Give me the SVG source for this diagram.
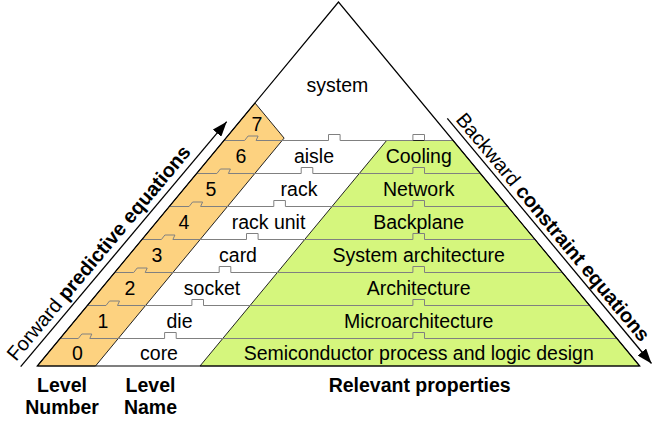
<svg xmlns="http://www.w3.org/2000/svg" width="653" height="423" viewBox="0 0 653 423">
<style>
text{font-family:"Liberation Sans",Arial,sans-serif;font-size:19.5px;fill:#000}
.c{text-anchor:middle}
.b{font-weight:bold}
.ax{font-size:20px}
.band{fill:none;stroke:#808080;stroke-width:1}
.edge{stroke:#222;stroke-width:1}
.arrow{stroke:#000;stroke-width:1.3;fill:none}
</style>
<defs>
<marker id="ah" markerUnits="userSpaceOnUse" markerWidth="15" markerHeight="11" viewBox="0 0 15 11" refX="15" refY="5.5" orient="auto">
<path d="M0,0 L15,5.5 L0,11 z" fill="#000"/>
</marker>
</defs>
<rect width="653" height="423" fill="#fff"/>
<g id="regions">
<polygon id="number-strip" class="edge" points="37.3,366 95.5,366 284.1,138.1 255,103" fill="#fdd280"/>
<polygon id="property-area" class="edge" points="200,366 386.6,140.5 453.1,140.5 639.7,366" fill="#d5f67d"/>
</g>
<g id="band-lines">
<path class="band" d="M223.9,140.5 H244.6 L248.1,136 H258.1 L256.1,140.5 H328.5 V134.5 H340.1 V140.5 H412.9 V134.5 H424.5 V140.5 H453.1"/>
<path class="band" d="M196.6,173.5 H216.9 L220.4,169 H230.4 L228.4,173.5 H301.2 V167.5 H312.8 V173.5 H412.9 V167.5 H424.5 V173.5 H480.4"/>
<path class="band" d="M169.3,206.5 H189.1 L192.6,202 H202.6 L200.6,206.5 H273.8 V200.5 H285.4 V206.5 H412.9 V200.5 H424.5 V206.5 H507.7"/>
<path class="band" d="M142,239.5 H161.4 L164.9,235 H174.9 L172.9,239.5 H246.5 V233.5 H258.1 V239.5 H412.9 V233.5 H424.5 V239.5 H535"/>
<path class="band" d="M114.7,272.5 H133.7 L137.2,268 H147.2 L145.2,272.5 H219.2 V266.5 H230.8 V272.5 H412.9 V266.5 H424.5 V272.5 H562.3"/>
<path class="band" d="M87.4,305.5 H106 L109.5,301 H119.5 L117.5,305.5 H191.9 V299.5 H203.5 V305.5 H412.9 V299.5 H424.5 V305.5 H589.7"/>
<path class="band" d="M60.1,338.5 H78.3 L81.8,334 H91.8 L89.8,338.5 H164.6 V332.5 H176.2 V338.5 H412.9 V332.5 H424.5 V338.5 H617"/>
</g>
<g id="pyramid">
<path d="M338.5,2 L37.3,366 H639.7 Z" fill="none" stroke="#000" stroke-width="1.2" stroke-linejoin="miter"/>
</g>
<g id="level-system"><text class="c" x="337.5" y="92">system</text></g>
<g id="level-7"><text class="c" x="257" y="130.5">7</text></g>
<g id="level-6"><text class="c" x="241" y="162.5">6</text><text class="c" x="314" y="162.5">aisle</text><text class="c" x="418.7" y="162.5">Cooling</text></g>
<g id="level-5"><text class="c" x="211" y="195.5">5</text><text class="c" x="299" y="195.5">rack</text><text class="c" x="418.7" y="195.5">Network</text></g>
<g id="level-4"><text class="c" x="184" y="228.5">4</text><text class="c" x="268.5" y="228.5">rack unit</text><text class="c" x="418.7" y="228.5">Backplane</text></g>
<g id="level-3"><text class="c" x="157" y="261.5">3</text><text class="c" x="238" y="261.5">card</text><text class="c" x="418.7" y="261.5">System architecture</text></g>
<g id="level-2"><text class="c" x="130" y="294.5">2</text><text class="c" x="212" y="294.5">socket</text><text class="c" x="418.7" y="294.5">Architecture</text></g>
<g id="level-1"><text class="c" x="103" y="327.5">1</text><text class="c" x="179.5" y="327.5">die</text><text class="c" x="418.7" y="327.5">Microarchitecture</text></g>
<g id="level-0"><text class="c" x="77.5" y="360">0</text><text class="c" x="159" y="360">core</text><text class="c" x="418.7" y="360">Semiconductor process and logic design</text></g>
<g id="column-headers">
<text class="c b" x="62" y="391.5">Level</text>
<text class="c b" x="62" y="414">Number</text>
<text class="c b" x="150.5" y="391.5">Level</text>
<text class="c b" x="150.5" y="414">Name</text>
<text class="c b" x="419.7" y="391.5">Relevant properties</text>
</g>
<g id="connectors">
<line class="arrow" x1="20.7" y1="366.7" x2="226.7" y2="121.7" marker-end="url(#ah)"/>
<line class="arrow" x1="447.3" y1="118.3" x2="651.5" y2="363.5" marker-end="url(#ah)"/>
<text class="ax" transform="translate(16,362) rotate(-50)">Forward <tspan class="b">predictive equations</tspan></text>
<text class="ax" transform="translate(455,120) rotate(50.2)">Backward <tspan class="b">constraint equations</tspan></text>
</g>
</svg>
